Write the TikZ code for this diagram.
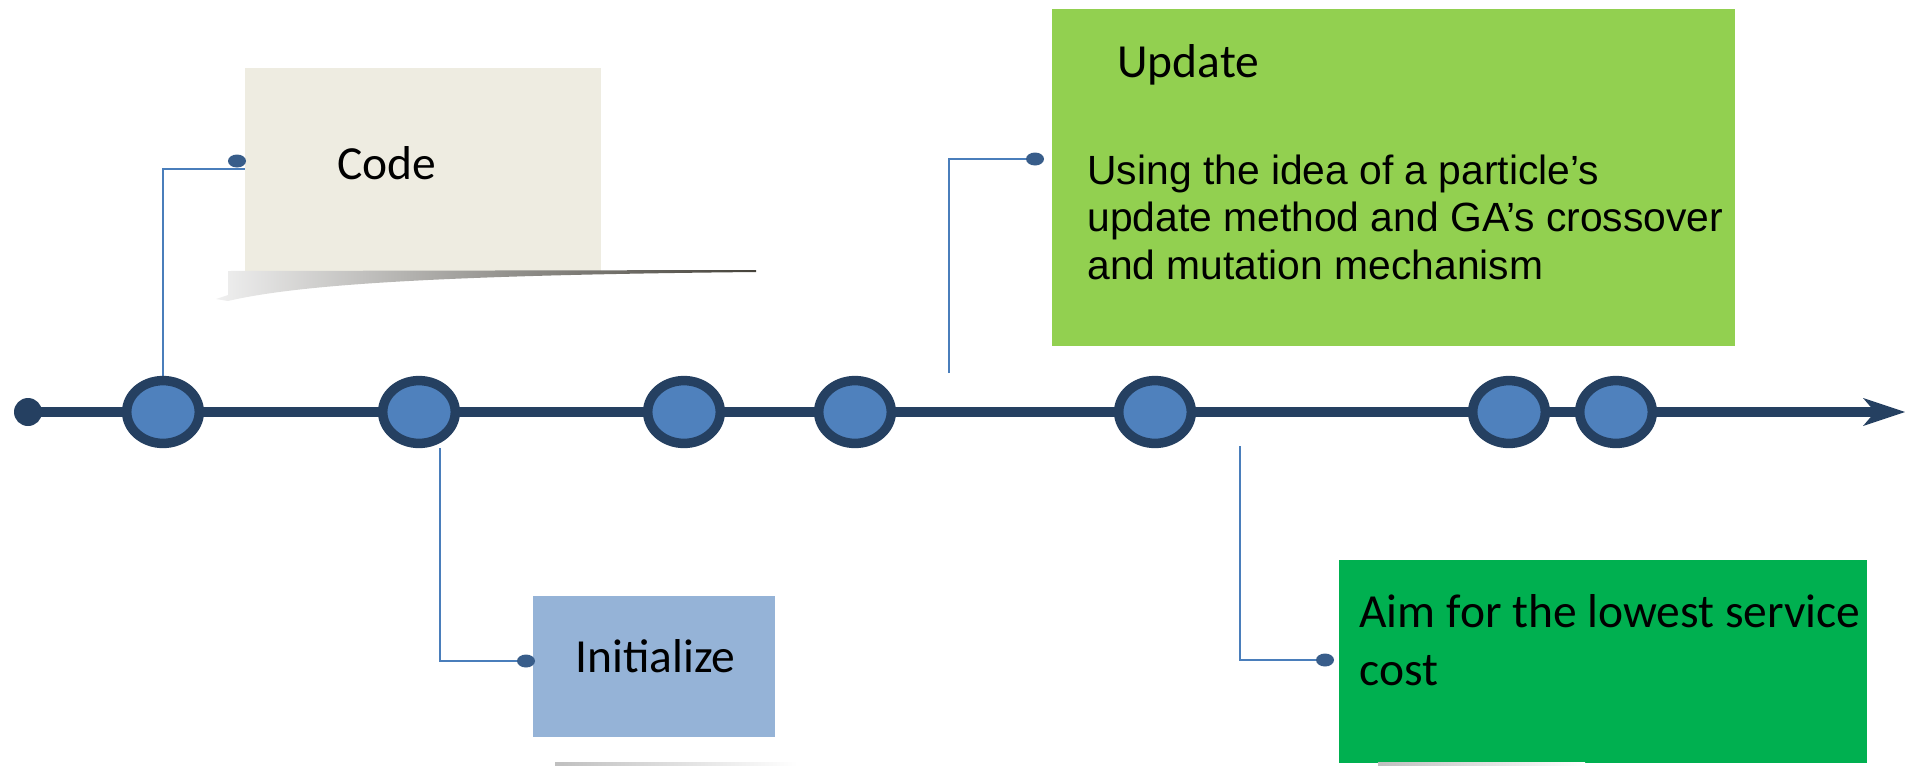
\documentclass[tikz,border=0pt]{standalone}
\usepackage{fontspec}
\setmainfont{Carlito}
\newfontfamily\arialf{Liberation Sans}
\usetikzlibrary{shapes.geometric,arrows.meta,backgrounds}
\definecolor{navy}{HTML}{254061}
\definecolor{bead}{HTML}{4F81BD}
\definecolor{connc}{HTML}{4A7EBB}
\definecolor{dotc}{HTML}{385D8A}
\definecolor{codefill}{HTML}{EEECE1}
\definecolor{updfill}{HTML}{92D050}
\definecolor{initfill}{HTML}{95B3D7}
\definecolor{aimfill}{HTML}{00B050}
\definecolor{shadowdark}{HTML}{45423A}
\tikzset{
  bead/.style={ellipse, draw=navy, fill=bead, line width=4.75pt, inner sep=0pt,
    minimum width=36.3pt, minimum height=31.4pt},
  conn/.style={draw=connc, line width=0.9pt},
  enddot/.style={ellipse, fill=dotc, inner sep=0pt, minimum width=9pt, minimum height=6.5pt},
  card/.style={rectangle, inner sep=0pt, draw=none},
  cal/.style={font=\fontsize{23.75pt}{29pt}\selectfont, inner sep=0pt, text=black},
  ari/.style={font=\arialf\fontsize{20.4pt}{23.75pt}\selectfont, inner sep=0pt, text=black},
  timeline/.style={draw=navy, line width=4.75pt,
    -{Stealth[length=21pt, width=14pt, inset=6pt, line width=0pt]}}
}
\begin{document}
\begin{tikzpicture}[x=0.5pt,y=-0.5pt]
\useasboundingbox (0,0) rectangle (1905,766);

% ---- boxes ----
\node[card, fill=codefill, minimum width=178pt, minimum height=101.5pt] (code) at (423,169.5) {};
\node[card, fill=updfill, minimum width=341.5pt, minimum height=168.5pt] (upd) at (1393.5,177.5) {};
\node[card, fill=initfill, minimum width=121pt, minimum height=70.5pt] (init) at (654,666.5) {};
\node[card, fill=aimfill, minimum width=264pt, minimum height=101.5pt] (aim) at (1603,661.5) {};

% ---- shadows ----
\shade[left color=white!94!black, right color=shadowdark]
  (228,271) -- (756,270) -- (756,272) .. controls (450,275) and (300,284) .. (228,301)
  -- (216,299) -- (228,295) -- cycle;
\shade[left color=black!25, middle color=black!70, right color=white]
  (555,762) -- (797,762) -- (797,765) -- (555,765) -- cycle;
\shade[left color=black!25, middle color=black!65, right color=white]
  (1378,762) -- (1585,762) -- (1585,765) -- (1378,765) -- cycle;

% ---- timeline ----
\coordinate (tlstart) at (28,412);
\coordinate (tlend) at (1905,412);
\draw[timeline] (tlstart) -- (tlend);
\node[circle, fill=navy, inner sep=0pt, minimum size=14pt] (start) at (tlstart) {};

% ---- beads ----
\node[bead] (e1) at (163,412) {};
\node[bead] (e2) at (419,412) {};
\node[bead] (e3) at (684,412) {};
\node[bead] (e4) at (855,412) {};
\node[bead] (e5) at (1155,412) {};
\node[bead] (e6) at (1509,412) {};
\node[bead] (e7) at (1616,412) {};

% ---- connectors ----
\coordinate (codeend) at (245,169);
\coordinate (initfree) at (440,448);
\coordinate (updfree) at (949,373);
\coordinate (aimfree) at (1240,446);
\node[enddot] (codedot) at (237,161) {};
\node[enddot] (initdot) at (526,661) {};
\node[enddot] (upddot) at (1035,159) {};
\node[enddot] (aimdot) at (1325,660) {};
\begin{scope}[on background layer]
\draw[conn] (e1.north) |- (codeend);
\draw[conn] (initfree) |- (initdot);
\draw[conn] (updfree) |- (upddot);
\draw[conn] (aimfree) |- (aimdot);
\end{scope}

% ---- texts ----
\node[cal, anchor=base] (codetxt) at (386.5,179) {Code};
\node[cal, anchor=base] (inittxt) at (655.5,672) {Initialize};
\node[cal, anchor=base west] (updtitle) at (1117,77) {Update};
\node[ari, anchor=base west] (upddesc) at (1087,184)
  {\vtop{\baselineskip=23.75pt
   \hbox{Using the idea of a particle’s}
   \hbox{update method and GA’s crossover}
   \hbox{and mutation mechanism}}};
\node[cal, anchor=base west] (aimtxt) at (1359,627)
  {\vtop{\baselineskip=29pt
   \hbox{Aim for the lowest service}
   \hbox{cost}}};
\end{tikzpicture}
\end{document}
